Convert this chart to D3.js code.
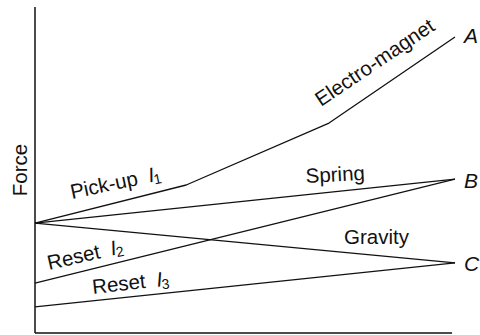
<!DOCTYPE html>
<html>
<head>
<meta charset="utf-8">
<style>
  body { margin: 0; background: #fff; }
  text { font-family: "Liberation Sans", Arial, Helvetica, sans-serif; fill: #111; }
</style>
</head>
<body>
<svg width="480" height="335"></svg>
<script src="https://d3js.org/d3.v7.min.js"></script>
<script>

// force curves, x = travel (0..100), y = force (0..100)
var electroMagnet = [[0, 33.7], [36, 45.4], [70, 64.4], [100, 90.8]];
var spring = [[0, 33.7], [100, 47.2]];
var gravity = [[0, 33.7], [100, 21.5]];
var resetI2 = [[0, 15.3], [100, 47.2]];
var resetI3 = [[0, 8.0], [100, 21.5]];

var endLabels = ["A", "B", "C"];
var yTitle = "Force";

var svg = d3.select("svg");

var x = d3.scaleLinear().domain([0, 100]).range([35, 455]);
var y = d3.scaleLinear().domain([0, 100]).range([333, 7]);

var line = d3.line()
    .x(function(d) { return x(d[0]); })
    .y(function(d) { return y(d[1]); });

// axes: plain lines, no ticks
svg.append("line")
    .attr("x1", x(0)).attr("x2", x(0))
    .attr("y1", y(0)).attr("y2", y(100))
    .attr("stroke", "#111").attr("stroke-width", 1.5);
svg.append("line")
    .attr("x1", x(0)).attr("x2", x(99.3))
    .attr("y1", y(0)).attr("y2", y(0))
    .attr("stroke", "#111").attr("stroke-width", 1.5);

[electroMagnet, spring, gravity, resetI2, resetI3].forEach(function(s) {
  svg.append("path")
      .datum(s)
      .attr("fill", "none")
      .attr("stroke", "#111")
      .attr("stroke-width", 1.3)
      .attr("stroke-linejoin", "round")
      .attr("d", line);
});

svg.append("text")
    .attr("transform", "translate(27,170) rotate(-90)")
    .attr("text-anchor", "middle")
    .attr("font-size", 20.5)
    .text(yTitle);

// end letters A, B, C
var ends = [electroMagnet[electroMagnet.length - 1], spring[1], gravity[1]];
var endDy = [6, 9, 8];
endLabels.forEach(function(l, i) {
  svg.append("text")
      .attr("x", x(ends[i][0]) + 9)
      .attr("y", y(ends[i][1]) + endDy[i])
      .attr("font-size", 21)
      .attr("font-style", "italic")
      .text(l);
});

function label(tx, ty, angle, word, sub) {
  var t = svg.append("text")
      .attr("transform", "translate(" + tx + "," + ty + ") rotate(" + angle + ")")
      .attr("font-size", 20.5);
  t.append("tspan").text(word);
  if (sub) {
    t.append("tspan").attr("dx", 11).attr("font-style", "italic").text("I");
    t.append("tspan").attr("font-size", 14).attr("dx", -1).attr("dy", 3).text(sub);
  }
}

label(72, 199, -12, "Pick-up", "1");
label(321, 107, -34, "Electro-magnet");
label(306, 183, -3, "Spring");
label(344, 244, 0, "Gravity");
label(49, 270, -13, "Reset", "2");
label(93, 294, -6.5, "Reset", "3");

</script>
</body>
</html>
